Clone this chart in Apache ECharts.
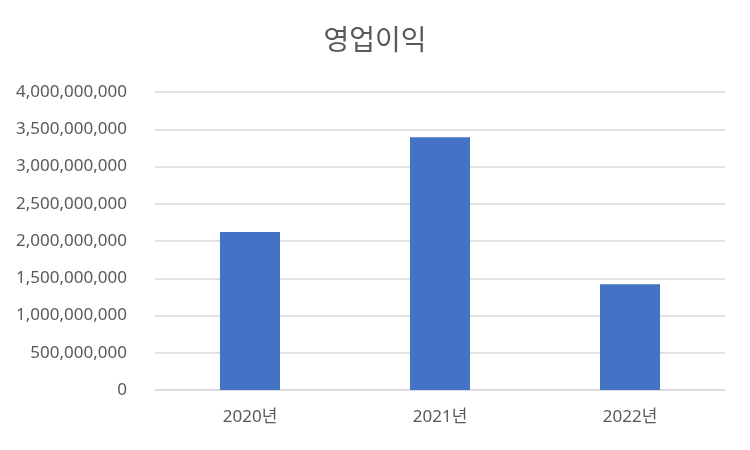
<!DOCTYPE html>
<html>
<head>
<meta charset="utf-8">
<script src="https://cdn.jsdelivr.net/npm/echarts@6/dist/echarts.min.js"></script>
<style>
  html, body { margin: 0; padding: 0; background: #fff; }
  #main { width: 750px; height: 450px; }
</style>
</head>
<body>
<div id="main"></div>
<script>
// 데이터
var categories = ['2020년', '2021년', '2022년'];
var profit = [2120000000, 3393000000, 1420000000];
var yMin = 0;
var yMax = 4000000000;
var yStep = 500000000;

var myChart = echarts.init(document.getElementById('main'));
var font = '"Noto Sans", "Noto Sans CJK KR", sans-serif';

option = {
    animation: false,
    title: {
        text: '영업이익',
        left: 'center',
        top: 23,
        textStyle: {
            color: '#595959',
            fontSize: 28,
            fontWeight: 'normal',
            fontFamily: font
        }
    },
    grid: {
        left: 155,
        right: 25,
        top: 92,
        bottom: 60
    },
    xAxis: {
        type: 'category',
        data: categories,
        axisTick: { show: false },
        axisLine: { lineStyle: { color: '#d9d9d9', width: 1.5 } },
        axisLabel: {
            color: '#595959',
            fontSize: 17,
            fontFamily: font,
            margin: 19
        }
    },
    yAxis: {
        type: 'value',
        min: yMin,
        max: yMax,
        interval: yStep,
        axisLine: { show: false },
        axisTick: { show: false },
        splitLine: { lineStyle: { color: '#d9d9d9', width: 1.5 } },
        axisLabel: {
            color: '#595959',
            fontSize: 17,
            fontFamily: font,
            margin: 28,
            formatter: function (v) {
                return v.toString().replace(/\B(?=(\d{3})+(?!\d))/g, ',');
            }
        }
    },
    series: [
        {
            name: '영업이익',
            type: 'bar',
            data: profit,
            barWidth: 60,
            itemStyle: { color: '#4472c4' }
        }
    ]
};

myChart.setOption(option);
</script>
</body>
</html>
